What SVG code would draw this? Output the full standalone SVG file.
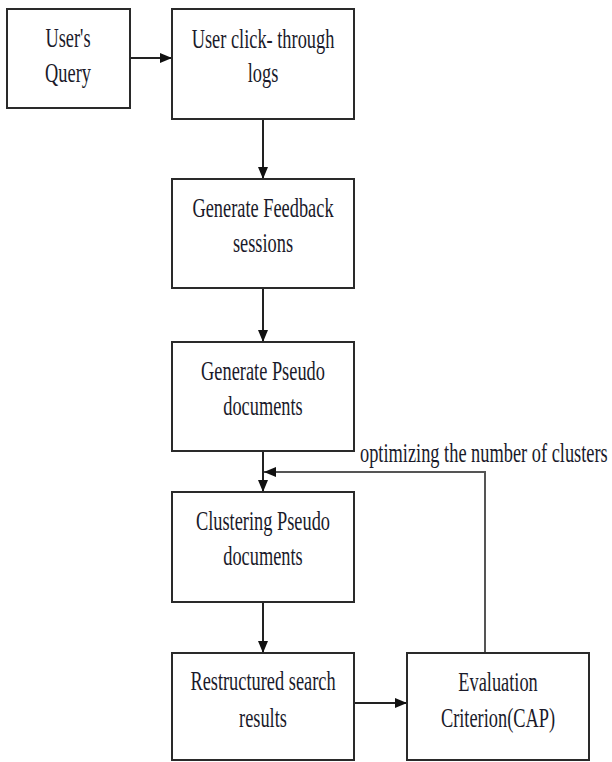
<svg xmlns="http://www.w3.org/2000/svg" width="612" height="762" viewBox="0 0 612 762">
<style>
.box{fill:#fff;stroke:#2a2a2a;stroke-width:2}
.t{font-family:"Liberation Serif","Times New Roman",serif;font-size:27px;fill:#1a1a2a}
.c{text-anchor:middle}
.ln{fill:none;stroke:#222;stroke-width:2}
.fb{fill:none;stroke:#555;stroke-width:2}
</style>
<defs>
<marker id="ah" viewBox="0 0 12 10" refX="12" refY="5" markerWidth="12" markerHeight="10" markerUnits="userSpaceOnUse" orient="auto">
<path d="M0,0 L12,5 L0,10 Z" fill="#111"/>
</marker>
</defs>
<rect width="612" height="762" fill="#fff"/>
<g id="connectors">
<line class="ln" x1="130" y1="58" x2="172" y2="58" marker-end="url(#ah)"/>
<line class="ln" x1="263" y1="119" x2="263" y2="179" marker-end="url(#ah)"/>
<line class="ln" x1="263" y1="288" x2="263" y2="342" marker-end="url(#ah)"/>
<line class="ln" x1="263" y1="451" x2="263" y2="492" marker-end="url(#ah)"/>
<line class="ln" x1="263" y1="602" x2="263" y2="653" marker-end="url(#ah)"/>
<line class="ln" x1="354" y1="703" x2="407" y2="703" marker-end="url(#ah)"/>
<polyline class="fb" points="485,653 485,472 264,472" marker-end="url(#ah)"/>
<text class="t" transform="translate(360,462) scale(0.68,1)">optimizing the number of clusters</text>
</g>
<g id="n1">
<rect class="box" x="7" y="9" width="123" height="99"/>
<text class="t c" transform="translate(68,47) scale(0.68,1)">User's</text>
<text class="t c" transform="translate(68,82) scale(0.68,1)">Query</text>
</g>
<g id="n2">
<rect class="box" x="172" y="9" width="182" height="110"/>
<text class="t c" transform="translate(263,48) scale(0.68,1)">User click- through</text>
<text class="t c" transform="translate(263,82) scale(0.68,1)">logs</text>
</g>
<g id="n3">
<rect class="box" x="172" y="179" width="182" height="109"/>
<text class="t c" transform="translate(263,217) scale(0.68,1)">Generate Feedback</text>
<text class="t c" transform="translate(263,252) scale(0.68,1)">sessions</text>
</g>
<g id="n4">
<rect class="box" x="172" y="342" width="182" height="109"/>
<text class="t c" transform="translate(263,380) scale(0.68,1)">Generate Pseudo</text>
<text class="t c" transform="translate(263,415) scale(0.68,1)">documents</text>
</g>
<g id="n5">
<rect class="box" x="172" y="492" width="182" height="110"/>
<text class="t c" transform="translate(263,530) scale(0.68,1)">Clustering Pseudo</text>
<text class="t c" transform="translate(263,565) scale(0.68,1)">documents</text>
</g>
<g id="n6">
<rect class="box" x="172" y="653" width="182" height="107"/>
<text class="t c" transform="translate(263,690) scale(0.68,1)">Restructured search</text>
<text class="t c" transform="translate(263,727) scale(0.68,1)">results</text>
</g>
<g id="n7">
<rect class="box" x="407" y="653" width="182" height="107"/>
<text class="t c" transform="translate(498,691) scale(0.68,1)">Evaluation</text>
<text class="t c" transform="translate(498,727) scale(0.68,1)">Criterion(CAP)</text>
</g>
</svg>
